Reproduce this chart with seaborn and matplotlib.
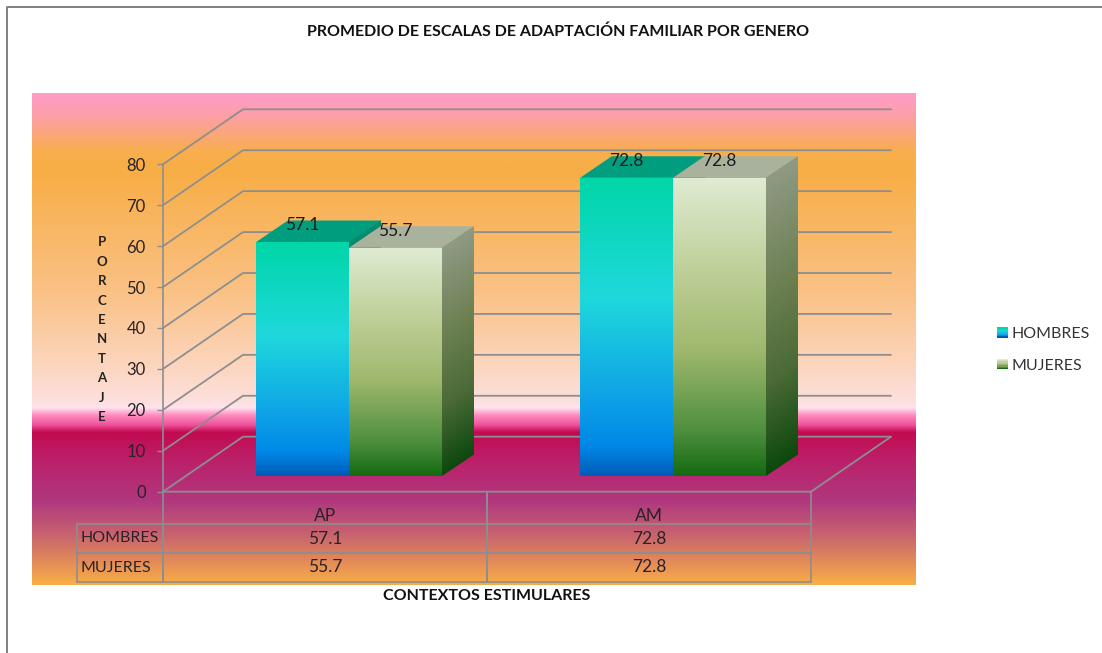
import numpy as np
import pandas as pd
import matplotlib
matplotlib.use("Agg")
import matplotlib.pyplot as plt
import seaborn as sns
from matplotlib.colors import LinearSegmentedColormap
from matplotlib.legend_handler import HandlerBase
from matplotlib.lines import Line2D
from matplotlib.patches import Polygon, Rectangle
from matplotlib.transforms import Affine2D

contextos = ["AP", "AM"]
generos = ["HOMBRES", "MUJERES"]
hombres = [57.1, 72.8]
mujeres = [55.7, 72.8]
yticks = [0, 10, 20, 30, 40, 50, 60, 70, 80]

W, H = 1102, 653
GRID = "#8e8e8e"
TXT = "#2a2226"

sns.set_style("white")
plt.rcParams["font.family"] = ["Lato", "DejaVu Sans"]


def grad(stops):
    return LinearSegmentedColormap.from_list("g", stops, N=512)


def rect(x0, y_top, x1, y_bot):
    # pixel box of the reference -> figure fractions
    return [x0 / W, 1 - y_bot / H, (x1 - x0) / W, (y_bot - y_top) / H]


bg_cm = grad([(0, "#FF9CC8"), (0.045, "#FD9FA8"), (0.12, "#F8AE4C"), (0.16, "#F8AE46"),
              (0.40, "#FAC184"), (0.58, "#FCD9C8"), (0.63, "#FDE0E0"), (0.64, "#FFE4EE"),
              (0.655, "#FF8CC0"), (0.675, "#F0509A"), (0.69, "#C20A50"), (0.74, "#BC1E68"),
              (0.83, "#B0387F"), (0.90, "#C9646E"), (1, "#F9AE46")])
h_cm = grad([(0, "#00D6A8"), (0.40, "#1FD8DC"), (0.72, "#0FA5E6"), (0.9, "#0088E6"), (1, "#005CB8")])
m_cm = grad([(0, "#DFEBD2"), (0.30, "#BFD09A"), (0.58, "#9FB86D"), (0.85, "#4E8F3E"), (1, "#146A12")])
side_cm = grad([(0, "#8F9A84"), (0.4, "#6B7F50"), (0.7, "#4A6A36"), (1, "#0C480C")])
h_side_cm = grad(["#008C6E", "#008C6E"])

fig = plt.figure(figsize=(W / 100, H / 100), dpi=100, facecolor="white")

# degraded panel behind everything
ax_bg = fig.add_axes(rect(32, 93, 915, 585), zorder=0)
ax_bg.imshow(np.linspace(0, 1, 512)[:, None], cmap=bg_cm, aspect="auto")
ax_bg.axis("off")

# front plane of the fake 3D box: value axis + data table
ax = fig.add_axes(rect(163, 164.3, 811, 491.7), zorder=1)
ax.patch.set_alpha(0)
ax.set_xlim(-0.5, 1.5)
ax.set_ylim(0, 80)
ax.set_xticks([])
ax.set_yticks(yticks)
ax.tick_params(axis="y", left=True, length=4.5, width=1, color=GRID, pad=8, labelsize=12, labelcolor=TXT)
sns.despine(ax=ax, top=True, right=True, bottom=True)
ax.spines["left"].set_color(GRID)
ax.spines["left"].set_linewidth(1.2)

# wall depth in data units: 80 px right, 55 px up
wx = 80 / 324
wy = 55 / (327.4 / 80)
for v in yticks:
    ax.plot([-0.5, -0.5 + wx, 1.5 + wx], [v, v + wy, v + wy], color=GRID, lw=1.3, clip_on=False, solid_joinstyle="miter")
ax.plot([-0.5, 1.5, 1.5 + wx], [0, 0, wy], color=GRID, lw=1.3, clip_on=False)

ax.set_ylabel("\n".join("PORCENTAJE"), rotation=0, fontsize=9.5, fontweight="bold",
              color="#222222", linespacing=1.74, va="center", ha="center")
ax.yaxis.set_label_coords((102 - 163) / 648, 0.495)
ax.set_xlabel("CONTEXTOS ESTIMULARES", fontsize=11.55, fontweight="bold", color="#111111", va="center")
ax.xaxis.set_label_coords(0.5, (491.7 - 596) / 327.4)

cells = [[""] + contextos,
         [generos[0]] + [f"{v:.1f}" for v in hombres],
         [generos[1]] + [f"{v:.1f}" for v in mujeres]]
tb = ax.table(cellText=cells, colWidths=[86, 324, 324], cellLoc="center",
              bbox=[(77 - 163) / 648, (491.7 - 582) / 327.4, (811 - 77) / 648, 90 / 327.4])
tb.auto_set_font_size(False)
tb.set_fontsize(12.5)
heights = [32, 29, 29]
for (r, c), cell in tb.get_celld().items():
    cell.set_facecolor("none")
    cell.set_edgecolor(GRID)
    cell.set_linewidth(1.2)
    cell.get_text().set_color(TXT)
    cell.set_height(heights[r] / 90)
    if c == 0:
        cell.PAD = 0.04
        cell.get_text().set_ha("left")
        cell.get_text().set_fontsize(11.5)
        cell._loc = "left"
    if r == 0:
        cell.visible_edges = "LR" if c else ""
        # category names sit low in their row
        cell.get_text().set_va("top")

# bars sit 24 px right and 16 px up of the front plane
ax_bar = fig.add_axes(rect(187, 148.3, 835, 475.7), zorder=2)
df = pd.DataFrame({"contexto": contextos * 2,
                   "valor": hombres + mujeres,
                   "genero": [generos[0]] * 2 + [generos[1]] * 2})
sns.barplot(data=df, x="contexto", y="valor", hue="genero", palette=["#1FB8DC", "#9FB86D"],
            width=0.573, gap=0, saturation=1, linewidth=0, ax=ax_bar, zorder=5)
ax_bar.patch.set_alpha(0)
ax_bar.set_xlim(-0.5, 1.5)
ax_bar.set_ylim(0, 80)
ax_bar.axis("off")

dx = 31.6 / 324
dy = 21.5 / (327.4 / 80)
caps = ["#009E7E", "#A8B29C"]
z = 2
ramp = np.linspace(0, 1, 256)[:, None]
for cont, front_cm, cap, s_cm in zip(ax_bar.containers, [h_cm, m_cm], caps, [h_side_cm, side_cm]):
    for bar in cont:
        x0, x1 = bar.get_x(), bar.get_x() + bar.get_width()
        top = bar.get_height()
        ax_bar.add_patch(Polygon([(x0, top), (x1, top), (x1 + dx, top + dy), (x0 + dx, top + dy)],
                                 closed=True, fc=cap, ec="none", zorder=z, clip_on=False))
        # side face: unit square sheared onto the bar's right edge
        shear = Affine2D.from_values(dx, dy, 0, top, x1, 0)
        ax_bar.imshow(ramp, cmap=s_cm, aspect="auto", extent=[0, 1, 0, 1], zorder=z, clip_on=False,
                      transform=shear + ax_bar.transData, interpolation="bilinear")
        im = ax_bar.imshow(ramp, cmap=front_cm, aspect="auto",
                           extent=[x0, x1, 0, top], zorder=6, interpolation="bilinear")
        im.set_clip_path(bar)
        ax_bar.annotate(f"{top:.1f}", (bar.get_x() + bar.get_width() / 2, top), xytext=(0, 12.2),
                        textcoords="offset points", ha="center", va="center", fontsize=12.5,
                        color="#1c1c1c", zorder=8, annotation_clip=False)
    z += 1
ax_bar.set_xlim(-0.5, 1.5)
ax_bar.set_ylim(0, 80)


class GradSwatch(HandlerBase):
    def __init__(self, cmap):
        super().__init__()
        self.cmap = cmap

    def create_artists(self, legend, orig_handle, xd, yd, width, height, fontsize, trans):
        n = 8
        return [Rectangle((-xd, -yd + height * (n - 1 - i) / n), width, height / n + 0.1,
                          fc=self.cmap(i / (n - 1)), ec="none", transform=trans) for i in range(n)]


handles, labels = ax_bar.get_legend_handles_labels()
ax_bar.legend_.remove()
fig.legend(handles, labels, handler_map={handles[0]: GradSwatch(h_cm), handles[1]: GradSwatch(m_cm)},
           frameon=False, loc="center left", bbox_to_anchor=(992 / W, 1 - 350 / H), fontsize=11.5,
           handlelength=0.72, handleheight=0.62, handletextpad=0.22, labelspacing=1.1,
           labelcolor="#333333", borderpad=0.3, borderaxespad=0)

fig.text(558 / W, 1 - 32 / H, "PROMEDIO DE ESCALAS DE ADAPTACIÓN FAMILIAR POR GENERO",
         ha="center", va="center", fontsize=11.57, fontweight="bold", color="#111111")

# outer frame of the pasted picture, only top and left remain
fig.add_artist(Line2D([6.5 / W, 6.5 / W, 1], [0, 1 - 6.5 / H, 1 - 6.5 / H], color="#808080", lw=1.4))

fig.savefig("out.png", dpi=100)
